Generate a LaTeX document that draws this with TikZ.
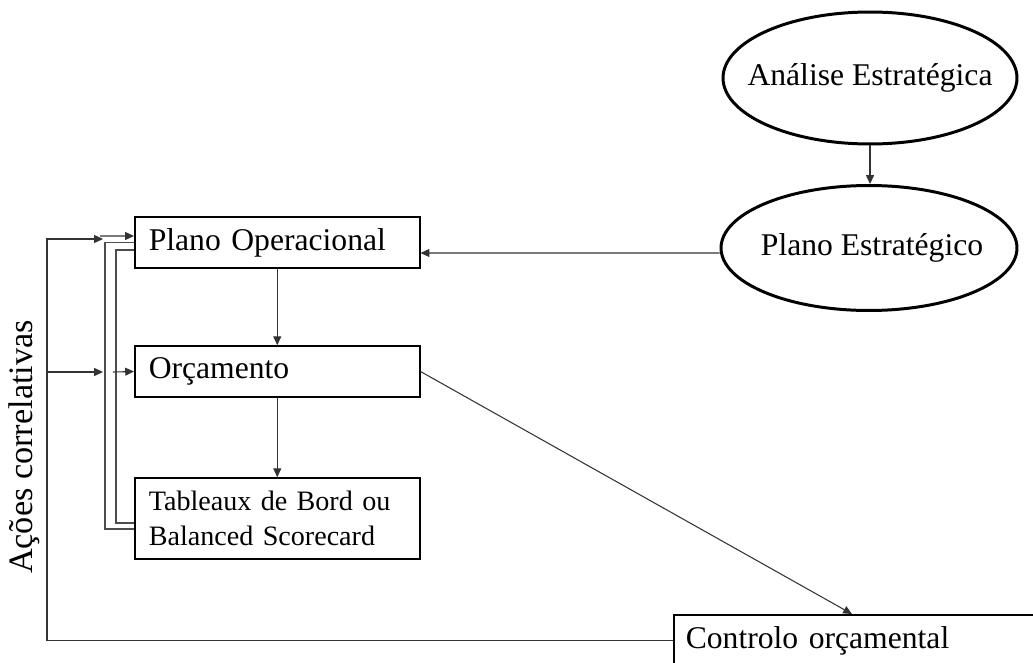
\documentclass[tikz,border=0pt]{standalone}
\usepackage{fontspec}
\setmainfont{Liberation Serif}
\usetikzlibrary{arrows.meta,shapes.geometric}

\begin{document}
\begin{tikzpicture}[x=0.02cm, y=-0.02cm,
    box/.style={draw, line width=0.9pt, anchor=west, align=left, text width=5.14cm,
      inner xsep=0.28cm, inner ysep=0pt, font=\fontsize{18}{21}\selectfont},
    oval/.style={draw, ellipse, line width=1.7pt, inner sep=0pt, font=\fontsize{18}{21}\selectfont},
    conn/.style={draw=black!80, line width=0.6pt, -{Triangle[length=5pt,width=4.5pt]}},
    brk/.style={draw=black!70, line width=0.6pt}]
    \useasboundingbox (0,0) rectangle (1033,662);
    \clip (0,0) rectangle (1033,662);
    \node[oval, minimum width=5.88cm, minimum height=2.64cm] (ae) at (870,78)
      {\makebox[0pt]{Análise Estratégica}};
    \node[oval, minimum width=5.92cm, minimum height=2.5cm] (pe) at (869,248)
      {\makebox[0pt]{\hspace{0.12cm}Plano Estratégico}};
    \node[box, minimum height=1.02cm] (po) at (134,242.5) {Plano Operacional};
    \node[box, minimum height=1.02cm] (or) at (134,371.5) {Orçamento};
    \node[box, minimum height=1.62cm, font=\fontsize{16}{19.5}\selectfont] (tb) at (134,518.5)
      {Tableaux de Bord ou\\Balanced Scorecard};
    \node[box, minimum height=1.04cm, text width=7.3cm, inner xsep=0.24cm, anchor=north west] (co)
      at (673,614) {Controlo orçamental};
    \node[rotate=90, inner sep=0pt, font=\fontsize{19.5}{22}\selectfont] (ac) at (24,447) {Ações correlativas};
    \coordinate (lt) at (47,239);
    \coordinate (ht) at (103,239);
    \coordinate (lm) at (47,372);
    \coordinate (hm) at (103,372);
    \draw[conn] (ae.south) -- (ae.south |- pe.north);
    \draw[conn] ([yshift=-0.1cm]pe.west) -- ([yshift=-0.21cm]po.east);
    \draw[conn] (po.south) -- (or.north);
    \draw[conn] (or.south) -- (tb.north);
    \draw[conn] (or.east) -- ([xshift=3.58cm]co.north west);
    \draw[conn] (co.west) -| (lt) -- (ht);
    \draw[conn] (lm) -- (hm);
    \draw[brk] (po.west) -- ++(-29,0) |- ([yshift=-0.21cm]tb.west);
    \draw[brk] ([yshift=-0.15cm]po.west) -- ++(-18,0) |- ([yshift=-0.09cm]tb.west);
    \draw[conn] ([xshift=-0.06cm, yshift=0.06cm]ht) -- ([yshift=0.13cm]po.west);
    \draw[conn] ([xshift=0.2cm]hm) -- (or.west);
  \end{tikzpicture}
\end{document}
